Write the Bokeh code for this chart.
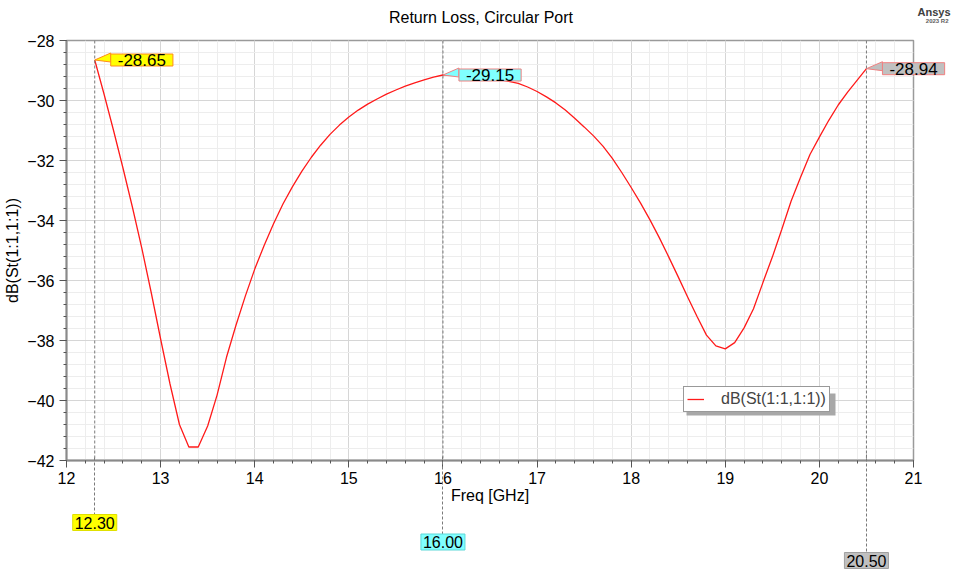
from bokeh.plotting import figure
from bokeh.models import (Range1d, SingleIntervalTicker, FixedTicker, LinearAxis, Label, Span,
                          Legend, LegendItem, BoxAnnotation)
from bokeh.embed import file_html
from bokeh.resources import INLINE

# ---------------- data ----------------
freq_ghz = [12.3, 12.4, 12.5, 12.6, 12.7, 12.8, 12.9, 13.0, 13.1, 13.2,
            13.3, 13.4, 13.5, 13.6, 13.7, 13.8, 13.9, 14.0, 14.1, 14.2,
            14.3, 14.4, 14.5, 14.6, 14.7, 14.8, 14.9, 15.0, 15.1, 15.2,
            15.3, 15.4, 15.5, 15.6, 15.7, 15.8, 15.9, 16.0, 16.1, 16.2,
            16.3, 16.4, 16.5, 16.6, 16.7, 16.8, 16.9, 17.0, 17.1, 17.2,
            17.3, 17.4, 17.5, 17.6, 17.7, 17.8, 17.9, 18.0, 18.1, 18.2,
            18.3, 18.4, 18.5, 18.6, 18.7, 18.8, 18.9, 19.0, 19.1, 19.2,
            19.3, 19.4, 19.5, 19.6, 19.7, 19.8, 19.9, 20.0, 20.1, 20.2,
            20.3, 20.4, 20.5]
return_loss_db = [-28.65, -29.80, -31.00, -32.25, -33.55, -34.92, -36.40, -37.95, -39.45, -40.80,
                  -41.55, -41.55, -40.85, -39.82, -38.56, -37.50, -36.52, -35.62, -34.83, -34.11,
                  -33.45, -32.88, -32.36, -31.90, -31.49, -31.13, -30.82, -30.55, -30.32, -30.12,
                  -29.95, -29.79, -29.65, -29.52, -29.41, -29.31, -29.22, -29.15, -29.14, -29.15,
                  -29.18, -29.21, -29.25, -29.30, -29.36, -29.43, -29.55, -29.70, -29.88, -30.08,
                  -30.32, -30.59, -30.88, -31.18, -31.52, -31.93, -32.40, -32.90, -33.42, -33.98,
                  -34.58, -35.22, -35.88, -36.55, -37.20, -37.82, -38.18, -38.28, -38.07, -37.58,
                  -36.94, -36.07, -35.22, -34.30, -33.35, -32.56, -31.80, -31.22, -30.66, -30.15,
                  -29.72, -29.33, -28.94]

marker_freq = [12.30, 16.00, 20.50]
marker_db = [-28.65, -29.15, -28.94]
marker_fill = ["#ffff00", "#80ffff", "#c0c0c0"]
marker_border = ["#ff8c1a", "#f08080", "#f08080"]
tag_border = ["#e0e000", "#5fd8d8", "#a0a0a0"]
marker_tag_drop = [62, 81.5, 100]   # px below frame of the frequency tags (centres)

series_name = "dB(St(1:1,1:1))"
title_text = "Return Loss, Circular Port"
x_label = "Freq [GHz]"
y_label = "dB(St(1:1,1:1))"

# ---------------- layout ----------------
W, H = 953, 571
BL, BR, BT, BB = 66, 40, 40, 111
FW = W - BL - BR
FH = H - BT - BB
XMIN, XMAX = 12, 21
YMIN, YMAX = -42, -28
PX_X = FW / (XMAX - XMIN)
PX_Y = FH / (YMAX - YMIN)
FONT = "Liberation Sans"
DASH_COLOR = "#7a7a7a"


def xd(px):
    return XMIN + (px - BL) / PX_X


def yd(py):
    return YMAX - (py - BT) / PX_Y


p = figure(width=W, height=H, x_range=Range1d(XMIN, XMAX), y_range=Range1d(YMIN, YMAX),
           output_backend="svg", toolbar_location=None, title=None,
           min_border_left=BL, min_border_right=BR, min_border_top=BT, min_border_bottom=BB)
p.background_fill_color = "white"
p.border_fill_color = "white"
p.outline_line_color = "#9a9a9a"
p.outline_line_width = 1.5

xt = SingleIntervalTicker(interval=1, num_minor_ticks=5)
yt = SingleIntervalTicker(interval=2, num_minor_ticks=5)
p.xaxis.ticker = xt
p.yaxis.ticker = yt
p.xgrid.ticker = xt
p.ygrid.ticker = yt
for g in (p.xgrid[0], p.ygrid[0]):
    g.grid_line_color = "#d6d6d6"
    g.grid_line_width = 1
    g.minor_grid_line_color = "#ededed"
    g.minor_grid_line_width = 1

for ax in (p.xaxis[0], p.yaxis[0]):
    ax.axis_line_color = "#8a8a8a"
    ax.axis_line_width = 2
    ax.major_tick_line_color = "#555555"
    ax.minor_tick_line_color = "#555555"
    ax.major_tick_out = 7
    ax.major_tick_in = 0
    ax.minor_tick_out = 3
    ax.minor_tick_in = 0
    ax.major_label_text_font = FONT
    ax.major_label_text_font_size = "16px"
    ax.major_label_text_color = "black"
    ax.axis_label_text_font = FONT
    ax.axis_label_text_font_size = "16px"
    ax.axis_label_text_font_style = "normal"
    ax.axis_label_text_color = "black"
p.xaxis.axis_label = x_label
p.yaxis.axis_label = y_label
p.xaxis.major_label_standoff = 4
p.yaxis.major_label_standoff = 5
p.xaxis.axis_label_standoff = 0
p.yaxis.axis_label_standoff = 3

# marker dashed lines inside the frame
for f in marker_freq:
    p.add_layout(Span(location=f, dimension="height", line_color=DASH_COLOR,
                      line_width=1, line_dash="3 2"))

r = p.line(freq_ghz, return_loss_db, line_color="#ff1a1a", line_width=1.3)

# callout pointers
for f, d, fc, bc in zip(marker_freq, marker_db, marker_fill, marker_border):
    p.patch([f, f + 16 / PX_X, f + 16 / PX_X], [d, d + 7 / PX_Y, d - 2 / PX_Y],
            fill_color=fc, line_color=bc, line_width=1)


def callout(f, d, fc, bc):
    return Label(x=f, y=d, x_offset=16, y_offset=0, anchor="center_left",
                 text=f"{d:.2f}", text_font=FONT, text_font_size="17px", text_color="black",
                 background_fill_color=fc, border_line_color=bc, border_line_width=1,
                 padding=dict(left=7, right=7, top=0, bottom=0))


for f, d, fc, bc in list(zip(marker_freq, marker_db, marker_fill, marker_border))[:2]:
    p.add_layout(callout(f, d, fc, bc))

# texts outside the frame go into side panels so they are not clipped
p.add_layout(Label(x=(XMIN + XMAX) / 2, y=YMAX, x_offset=-9, y_offset=23, anchor="center",
                   text=title_text, text_font=FONT, text_font_size="16px", text_color="black"),
             "above")
p.add_layout(callout(marker_freq[2], marker_db[2], marker_fill[2], marker_border[2]), "above")

p.add_layout(Label(x=XMAX, y=YMAX, x_offset=37, y_offset=29, anchor="center_right",
                   text="Ansys", text_font=FONT, text_font_size="11px", text_font_style="bold",
                   text_color="#404040"), "right")
p.add_layout(Label(x=XMAX, y=YMAX, x_offset=35, y_offset=20, anchor="center_right",
                   text="2023 R2", text_font=FONT, text_font_size="6px", text_font_style="bold",
                   text_color="#606060"), "below")

# dashed marker lines below the frame: tick-only axes (tick_in reaches up to the frame)
dash_in = [56, 76, 96]
dash_out = [3, 3, 1]


def dash_axis(f, tin, tout):
    return LinearAxis(ticker=FixedTicker(ticks=[f]), axis_line_color=None,
                      major_tick_in=tin, major_tick_out=tout,
                      major_tick_line_color=DASH_COLOR, major_tick_line_width=1,
                      major_tick_line_dash="3 2", minor_tick_line_color=None,
                      major_label_text_font_size="0px", major_label_text_color=None,
                      major_label_standoff=0)


for f, fc, tb, drop, tin, tout in zip(marker_freq, marker_fill, tag_border, marker_tag_drop,
                                      dash_in, dash_out):
    p.add_layout(dash_axis(f, tin, tout), "below")
    p.add_layout(Label(x=f, y=YMIN, y_offset=-drop, anchor="center",
                       text=f"{f:.2f}", text_font=FONT, text_font_size="16px", text_color="black",
                       background_fill_color=fc, border_line_color=tb, border_line_width=1,
                       padding=dict(left=2, right=2, top=2, bottom=2)), "below")

# legend shadow + legend
p.add_layout(BoxAnnotation(left=xd(686), right=xd(835), top=yd(393), bottom=yd(415),
                           fill_color="#a8a8a8", fill_alpha=1, line_color=None))
legend = Legend(items=[LegendItem(label=series_name, renderers=[r])], location=(617, 48),
                padding=3, margin=0, spacing=0, glyph_width=17, glyph_height=16,
                label_standoff=17, label_height=16, label_text_font=FONT,
                label_text_font_size="16px", border_line_color="#333333",
                border_line_width=1, background_fill_color="white", background_fill_alpha=1)
p.add_layout(legend, "center")

open("out.html", "w").write(file_html(p, INLINE))
